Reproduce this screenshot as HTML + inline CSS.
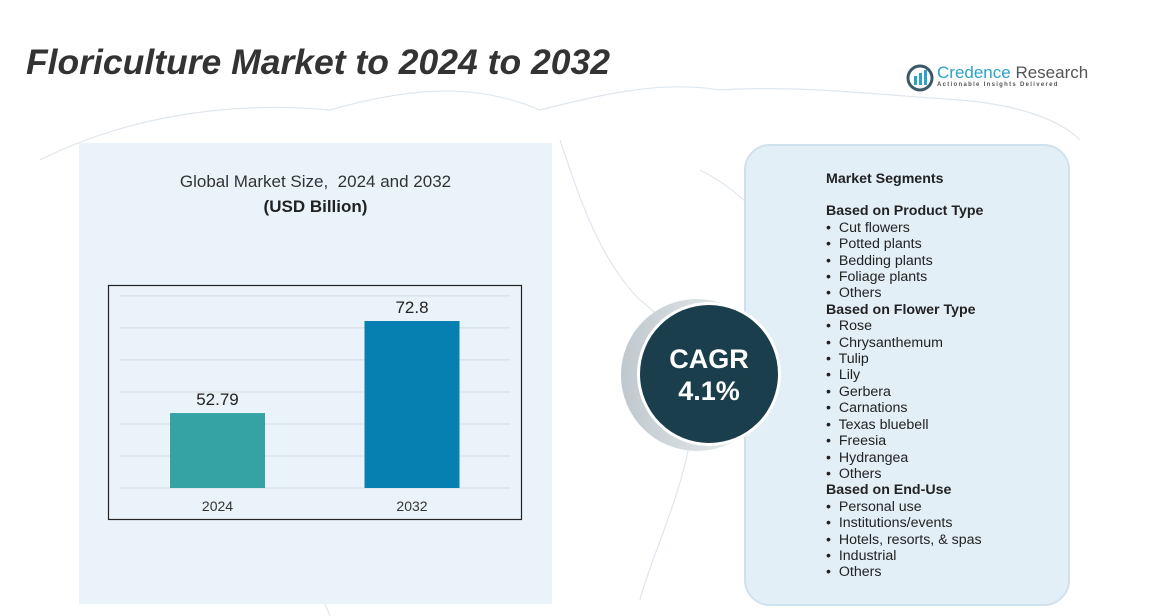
<!DOCTYPE html>
<html><head><meta charset="utf-8">
<style>
body{margin:0;width:1161px;height:616px;overflow:hidden;background:#fff;font-family:"Liberation Sans",sans-serif;position:relative}
.abs{position:absolute}
#title{left:26px;top:42px;font-size:35.5px;font-weight:bold;font-style:italic;color:#333;white-space:nowrap}
#left-panel{left:79px;top:143px;width:473px;height:461px;background:#eaf3fa}
#right-panel{left:744px;top:144px;width:322px;height:458px;background:#e2eff7;border:2px solid #cfe1ec;border-radius:26px}
.seg{font-size:14.2px;color:#222;line-height:16.4px}
.seg b{font-weight:bold}
</style></head><body>
<svg class="abs" style="left:0;top:0" width="1161" height="616">
<g fill="none" stroke="#dfe7ee" stroke-width="1.2">
<path d="M40,160 C120,120 220,100 330,110 C400,90 470,80 540,110 C600,95 660,80 720,90 C800,85 880,95 960,100 C1020,105 1060,120 1080,140"/>
<path d="M560,140 C580,200 600,260 640,300 C680,330 700,380 690,440 C680,500 650,560 640,600"/>
<path d="M700,170 C760,200 800,260 820,330"/>
<path d="M270,520 C300,560 320,590 330,616"/>
</g></svg>
<div class="abs" id="title">Floriculture Market to 2024 to 2032</div>
<div class="abs" style="left:906px;top:62px;width:180px;height:32px">
<svg width="28" height="28" style="position:absolute;left:0;top:2px"><circle cx="14" cy="14" r="12" fill="none" stroke="#3a5a6a" stroke-width="3"/><rect x="8" y="12" width="3" height="9" fill="#2aa3c6"/><rect x="13" y="9" width="3" height="12" fill="#2aa3c6"/><rect x="18" y="6" width="3" height="15" fill="#2aa3c6"/></svg>
<div style="position:absolute;left:31px;top:1px;font-size:17px;color:#2aa3c6;white-space:nowrap">Credence <span style="color:#555">Research</span></div>
<div style="position:absolute;left:31px;top:20px;font-size:6px;letter-spacing:1.3px;color:#555;white-space:nowrap;font-weight:bold">Actionable Insights Delivered</div>
</div>
<div class="abs" id="left-panel"></div>
<div class="abs" style="left:79px;top:172px;width:473px;text-align:center;font-size:17px;color:#333">Global Market Size,&nbsp; 2024 and 2032</div>
<div class="abs" style="left:79px;top:197px;width:473px;text-align:center;font-size:17px;font-weight:bold;color:#222">(USD Billion)</div>
<svg class="abs" id="chart" style="left:0;top:0" width="1161" height="616"></svg>
<div class="abs" id="right-panel"></div>
<svg class="abs" style="left:605px;top:298px" width="180" height="155">
<defs><linearGradient id="g" x1="0" x2="1"><stop offset="0" stop-color="#bfc8ce"/><stop offset="1" stop-color="#f4f6f7"/></linearGradient></defs>
<circle cx="92" cy="77" r="76" fill="url(#g)"/>
<circle cx="104" cy="76" r="72" fill="#fff"/>
<circle cx="104" cy="76" r="69" fill="#1a3e4c"/>
<text x="104" y="70" text-anchor="middle" font-size="27" font-weight="bold" fill="#fff" font-family="Liberation Sans">CAGR</text>
<text x="104" y="102" text-anchor="middle" font-size="27" font-weight="bold" fill="#fff" font-family="Liberation Sans">4.1%</text>
</svg>
<div class="abs seg" style="left:826px;top:171px">
<div><b>Market Segments</b></div>
<div style="height:16px"></div>
<div><b>Based on Product Type</b></div>
<div>•&nbsp; Cut flowers</div><div>•&nbsp; Potted plants</div><div>•&nbsp; Bedding plants</div><div>•&nbsp; Foliage plants</div><div>•&nbsp; Others</div>
<div><b>Based on Flower Type</b></div>
<div>•&nbsp; Rose</div><div>•&nbsp; Chrysanthemum</div><div>•&nbsp; Tulip</div><div>•&nbsp; Lily</div><div>•&nbsp; Gerbera</div><div>•&nbsp; Carnations</div><div>•&nbsp; Texas bluebell</div><div>•&nbsp; Freesia</div><div>•&nbsp; Hydrangea</div><div>•&nbsp; Others</div>
<div><b>Based on End-Use</b></div>
<div>•&nbsp; Personal use</div><div>•&nbsp; Institutions/events</div><div>•&nbsp; Hotels, resorts, &amp; spas</div><div>•&nbsp; Industrial</div><div>•&nbsp; Others</div>
</div>
<script>
const categories=["2024","2032"];
const values=[52.79,72.8];
const valueLabels=["52.79","72.8"];
const barColors=["#35a3a4","#0580b0"];
const yMin=36.5, yStep=6.96, tickCount=7;
const NS="http://www.w3.org/2000/svg";
const svg=document.getElementById('chart');
const plotL=120,plotR=510,base=488,pxPerUnit=4.6;
function y(v){return base-(v-yMin)*pxPerUnit;}
function x(i){return 170+i*194.5;}
const bw=95;
function mk(t,a){const e=document.createElementNS(NS,t);for(const k in a)e.setAttribute(k,a[k]);svg.appendChild(e);return e;}
const frame=mk('rect',{x:108.5,y:285.5,width:413,height:234,fill:'none',stroke:'#222','stroke-width':1.2});


for(let t=0;t<tickCount;t++){
 const yy=y(yMin+t*yStep);
 const g=mk('line',{x1:plotL,x2:plotR,y1:yy,y2:yy,stroke:'#d5dcdf','stroke-width':1});
 
 
}
values.forEach((v,i)=>{
 const r=mk('rect',{x:x(i),y:y(v),width:bw,height:base-y(v),fill:barColors[i]});
 
 
 const l=mk('text',{x:x(i)+bw/2,y:y(v)-8,'text-anchor':'middle','font-size':17,fill:'#222','font-family':'Liberation Sans'});
 l.textContent=valueLabels[i];
 
 
 const c=mk('text',{x:x(i)+bw/2,y:511,'text-anchor':'middle','font-size':14,fill:'#333','font-family':'Liberation Sans'});
 c.textContent=categories[i];
 
 
});
</script>
</body></html>
